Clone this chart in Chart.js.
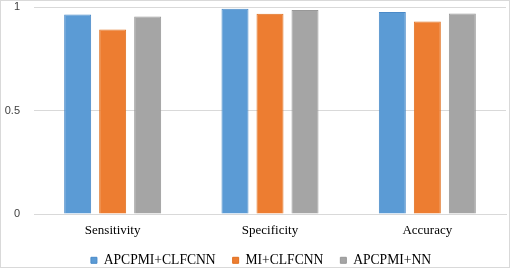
<!DOCTYPE html>
<html>
<head>
<meta charset="utf-8">
<script src="https://cdn.jsdelivr.net/npm/chart.js@4/dist/chart.umd.min.js"></script>
<style>
html,body{margin:0;padding:0;background:#fff;}
#wrap{width:510px;height:268px;position:relative;}
</style>
</head>
<body>
<div id="wrap"><canvas id="c" width="510" height="268"></canvas></div>
<script>
const categories = ["Sensitivity", "Specificity", "Accuracy"];
const seriesNames = ["APCPMI+CLFCNN", "MI+CLFCNN", "APCPMI+NN"];
const apcpmiClfcnn = [0.964, 0.991, 0.976];
const miClfcnn = [0.891, 0.967, 0.930];
const apcpmiNn = [0.954, 0.985, 0.969];
const yTicks = [0, 0.5, 1];

const fills = ["#5B9BD5", "#ED7D31", "#A5A5A5"];
const borders = ["#4A8AC8", "#E0701F", "#989898"];
const values = [apcpmiClfcnn, miClfcnn, apcpmiNn];

const frame = {
  id: 'frame',
  afterInit(chart) {
    const lg = chart.legend;
    if (lg) {
      const fit = lg.fit.bind(lg);
      lg.fit = function () { fit(); this.height = 29; };
    }
  },
  afterLayout(chart) {
    const lg = chart.legend;
    if (lg) { lg.top = 236.5; lg.left += 8; lg.right += 8; }
  },
  afterDraw(chart) {
    const ctx = chart.ctx;
    ctx.save();
    ctx.strokeStyle = '#d9d9d9';
    ctx.lineWidth = 1;
    ctx.strokeRect(0.5, 0.5, 509, 267);
    ctx.restore();
  }
};

new Chart(document.getElementById('c'), {
  type: 'bar',
  data: {
    labels: categories,
    datasets: seriesNames.map((n, i) => ({
      label: n,
      data: values[i],
      backgroundColor: fills[i],
      borderColor: borders[i],
      borderWidth: 1,
      categoryPercentage: 0.6675,
      barPercentage: 0.771
    }))
  },
  options: {
    responsive: false,
    animation: false,
    devicePixelRatio: 1,
    layout: { padding: { left: 0, right: 4, top: 7, bottom: 0 } },
    plugins: {
      tooltip: { enabled: false },
      legend: {
        position: 'bottom',
        labels: {
          boxWidth: 6,
          boxHeight: 6,
          padding: 17,
          color: '#000',
          font: { family: 'Liberation Serif', size: 13.6 }
        }
      }
    },
    scales: {
      x: {
        afterFit(axis) { axis.height = 25; },
        grid: { display: false, drawTicks: false },
        border: { display: true, color: '#d9d9d9' },
        ticks: {
          color: '#000',
          padding: 9,
          font: { family: 'Liberation Serif', size: 13 }
        }
      },
      y: {
        min: 0,
        max: 1,
        afterBuildTicks(axis) { axis.ticks = yTicks.map(v => ({ value: v })); },
        afterFit(axis) { axis.width = 34; axis.paddingTop = 0; axis.paddingBottom = 0; },
        grid: { color: '#d9d9d9', drawTicks: false },
        border: { display: false },
        ticks: {
          color: '#404040',
          padding: 14,
          font: { family: 'Liberation Sans', size: 11 },
          callback: v => String(v)
        }
      }
    }
  },
  plugins: [frame]
});
</script>
</body>
</html>
